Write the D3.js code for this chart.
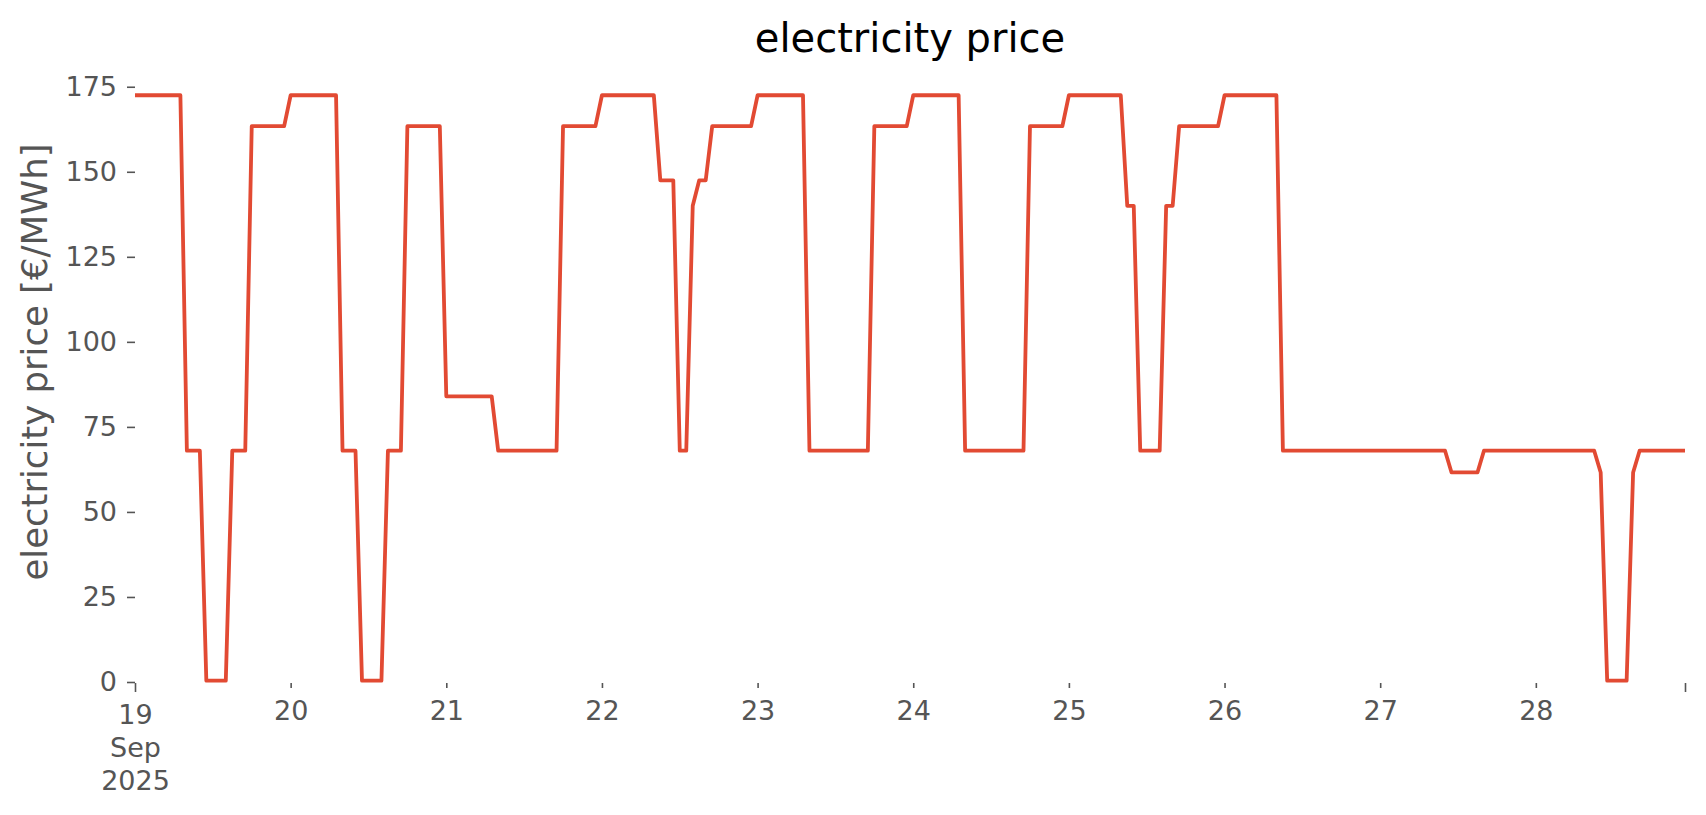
<!DOCTYPE html>
<html>
<head>
<meta charset="utf-8">
<script src="https://cdn.jsdelivr.net/npm/d3@7"></script>
<style>
  body { margin: 0; background: #fff; }
  svg text { font-family: "DejaVu Sans", sans-serif; }
</style>
</head>
<body>
<svg id="chart" width="1706" height="815"></svg>
<script>
// hourly prices, one row per day (19 Sep .. 28 Sep 2025)
const prices = [
  172.5,172.5,172.5,172.5,172.5,172.5,172.5,172.5,68,68,68,0.4,0.4,0.4,0.4,68,68,68,163.4,163.4,163.4,163.4,163.4,163.4,
  172.5,172.5,172.5,172.5,172.5,172.5,172.5,172.5,68,68,68,0.4,0.4,0.4,0.4,68,68,68,163.4,163.4,163.4,163.4,163.4,163.4,
  84,84,84,84,84,84,84,84,68,68,68,68,68,68,68,68,68,68,163.4,163.4,163.4,163.4,163.4,163.4,
  172.5,172.5,172.5,172.5,172.5,172.5,172.5,172.5,172.5,147.5,147.5,147.5,68,68,140,147.5,147.5,163.4,163.4,163.4,163.4,163.4,163.4,163.4,
  172.5,172.5,172.5,172.5,172.5,172.5,172.5,172.5,68,68,68,68,68,68,68,68,68,68,163.4,163.4,163.4,163.4,163.4,163.4,
  172.5,172.5,172.5,172.5,172.5,172.5,172.5,172.5,68,68,68,68,68,68,68,68,68,68,163.4,163.4,163.4,163.4,163.4,163.4,
  172.5,172.5,172.5,172.5,172.5,172.5,172.5,172.5,172.5,140,140,68,68,68,68,140,140,163.4,163.4,163.4,163.4,163.4,163.4,163.4,
  172.5,172.5,172.5,172.5,172.5,172.5,172.5,172.5,172.5,68,68,68,68,68,68,68,68,68,68,68,68,68,68,68,
  68,68,68,68,68,68,68,68,68,68,68,61.6,61.6,61.6,61.6,61.6,68,68,68,68,68,68,68,68,
  68,68,68,68,68,68,68,68,68,68,61.6,0.4,0.4,0.4,0.4,61.6,68,68,68,68,68,68,68,68
];
const startDate = new Date(Date.UTC(2025, 8, 19));
const dayLabels = ["19", "20", "21", "22", "23", "24", "25", "26", "27", "28"];
const yTicks = [0, 25, 50, 75, 100, 125, 150, 175];

const data = prices.map((v, i) => ({ t: d3.utcHour.offset(startDate, i), v: v }));
const endDate = data[data.length - 1].t;

const svg = d3.select("#chart");
const tickColor = "#555555";

const x = d3.scaleUtc().domain([startDate, endDate]).range([135, 1685]);
const y = d3.scaleLinear().domain([0, 181.1]).range([682, 66]);

// y axis
const yAxis = svg.append("g")
  .attr("transform", "translate(135,0)")
  .call(d3.axisLeft(y).tickValues(yTicks).tickSize(8).tickPadding(10));
yAxis.select(".domain").remove();
yAxis.selectAll("line").attr("stroke", tickColor).attr("stroke-width", 1.6);
yAxis.selectAll("text").attr("fill", tickColor).style("font-size", "27px");

// x axis: day ticks (minor), first + last ticks (major)
const dayDates = dayLabels.map((d, i) => d3.utcDay.offset(startDate, i));

const xMinor = svg.append("g")
  .attr("transform", "translate(0,683)")
  .call(d3.axisBottom(x).tickValues(dayDates.slice(1)).tickSize(5).tickPadding(13)
    .tickFormat((d, i) => dayLabels[i + 1]));
xMinor.select(".domain").remove();
xMinor.selectAll("line").attr("stroke", tickColor).attr("stroke-width", 1.6);
xMinor.selectAll("text").attr("fill", tickColor).style("font-size", "27px");

const xMajor = svg.append("g")
  .attr("transform", "translate(0,683)")
  .call(d3.axisBottom(x).tickValues([startDate, endDate]).tickSize(9).tickPadding(13)
    .tickFormat(() => ""));
xMajor.select(".domain").remove();
xMajor.selectAll("line").attr("stroke", tickColor).attr("stroke-width", 1.6);

const firstLabel = xMajor.select(".tick text")
  .attr("fill", tickColor).style("font-size", "27px");
["19", "Sep", "2025"].forEach((s, i) => {
  firstLabel.append("tspan").attr("x", 0).attr("dy", i === 0 ? "0.71em" : "1.22em").text(s);
});
firstLabel.attr("dy", null);

// line
svg.append("path")
  .datum(data)
  .attr("fill", "none")
  .attr("stroke", "#E24A33")
  .attr("stroke-width", 3.8)
  .attr("stroke-linejoin", "round")
  .attr("d", d3.line().x(d => x(d.t)).y(d => y(d.v)));

// title and y label
svg.append("text")
  .attr("x", (135 + 1685) / 2)
  .attr("y", 52)
  .attr("text-anchor", "middle")
  .style("font-size", "40px")
  .attr("fill", "#000")
  .text("electricity price");

svg.append("text")
  .attr("transform", "translate(47,362) rotate(-90)")
  .attr("text-anchor", "middle")
  .style("font-size", "35.5px")
  .attr("fill", tickColor)
  .text("electricity price [€/MWh]");
</script>
</body>
</html>
